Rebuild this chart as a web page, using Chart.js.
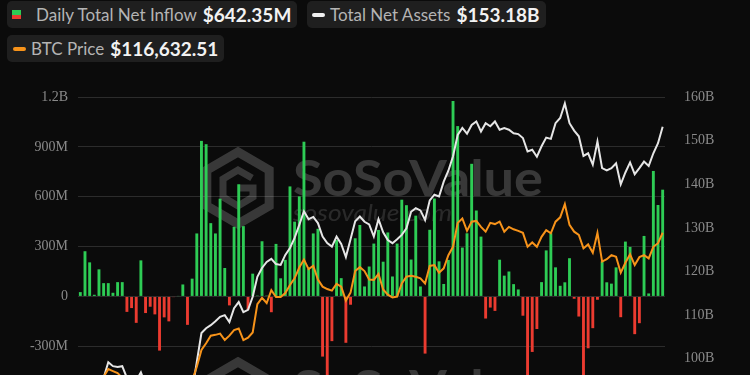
<!DOCTYPE html>
<html>
<head>
<meta charset="utf-8">
<script src="https://cdn.jsdelivr.net/npm/chart.js@4.4.1/dist/chart.umd.min.js"></script>
<style>
  body { margin: 0; background: #0b0b0b; width: 750px; height: 375px; overflow: hidden; position: relative; font-family: Lato, "Noto Sans", sans-serif; }
  .pill { position: absolute; height: 27px; background: #1f1f1f; border-radius: 5px; display: flex; align-items: center; box-sizing: border-box; white-space: nowrap; }
  .lbl { color: #b4b4b4; font-size: 17px; }
  .val { color: #f2f2f2; font-size: 19px; font-weight: bold; margin-left: 6px; }
  .sq { width: 9px; height: 9px; display: inline-block; background: linear-gradient(#2ecc55 50%, #eb3b30 50%); margin-right: 15px; }
  .dash { width: 13px; height: 4px; border-radius: 2px; display: inline-block; margin-right: 5px; }
  #wrap { position: absolute; left: 0; top: 0; width: 750px; height: 470px; }
</style>
</head>
<body>
<div class="pill" style="left:7px;top:1px;padding:0 6px 0 5px;">
  <span class="sq"></span><span class="lbl">Daily Total Net Inflow</span><span class="val">$642.35M</span>
</div>
<div class="pill" style="left:307px;top:1px;padding:0 6px 0 5px;">
  <span class="dash" style="background:#f0f0f0"></span><span class="lbl">Total Net Assets</span><span class="val">$153.18B</span>
</div>
<div class="pill" style="left:7px;top:35px;padding:0 6px 0 6px;">
  <span class="dash" style="background:#f7931a"></span><span class="lbl">BTC Price</span><span class="val">$116,632.51</span>
</div>
<div id="wrap"><canvas id="chart"></canvas></div>
<script>
// trading days shown on the (hidden) x axis
const dates = [
  'Mar 14','Mar 17','Mar 18','Mar 19','Mar 20','Mar 21','Mar 24','Mar 25','Mar 26','Mar 27','Mar 28','Mar 31',
  'Apr 1','Apr 2','Apr 3','Apr 4','Apr 7','Apr 8','Apr 9','Apr 10','Apr 11','Apr 14','Apr 15','Apr 16','Apr 17',
  'Apr 21','Apr 22','Apr 23','Apr 24','Apr 25','Apr 28','Apr 29','Apr 30',
  'May 1','May 2','May 5','May 6','May 7','May 8','May 9','May 12','May 13','May 14','May 15','May 16',
  'May 19','May 20','May 21','May 22','May 23','May 27','May 28','May 29','May 30',
  'Jun 2','Jun 3','Jun 4','Jun 5','Jun 6','Jun 9','Jun 10','Jun 11','Jun 12','Jun 13','Jun 16','Jun 17',
  'Jun 18','Jun 20','Jun 23','Jun 24','Jun 25','Jun 26','Jun 27','Jun 30',
  'Jul 1','Jul 2','Jul 3','Jul 7','Jul 8','Jul 9','Jul 10','Jul 11','Jul 14','Jul 15','Jul 16','Jul 17',
  'Jul 18','Jul 21','Jul 22','Jul 23','Jul 24','Jul 25','Jul 28','Jul 29','Jul 30','Jul 31',
  'Aug 1','Aug 4','Aug 5','Aug 6','Aug 7','Aug 8','Aug 11','Aug 12','Aug 13','Aug 14','Aug 15','Aug 18',
  'Aug 19','Aug 20','Aug 21','Aug 22','Aug 25','Aug 26','Aug 27','Aug 28','Aug 29',
  'Sep 2','Sep 3','Sep 4','Sep 5','Sep 8','Sep 9','Sep 10','Sep 11','Sep 12'
];

// daily total net inflow, millions USD
const netInflow = [
  26, 272, 205, 10, 163, 80, 80, 22, 86, 86, -93, -70,
  -159, 217, -100, -62, -108, -326, -126, -150, -4, 2, 72, -171, 107,
  379, 936, 916, 441, 379, 588, 171, -54,
  419, 675, 423, -80, 137, 5, 332, 5, -95, 316, 109, 220,
  662, 450, 602, 931, 167, 379, 407, -362, -520,
  -269, 340, 110, -279, -50, 350, 430, 60, 180, 318, 400, 209,
  385, 120, 318, 582, 549, 222, 486, 60,
  -344, 401, 589, 211, 75, 220, 1176, 1025, 294, 380, 798, 517,
  360, -133, -67, -87, 221, 125, 150, 74, 42, -116,
  -600, -334, -196, 86, 277, 380, 175, 64, 85, 230, -14, -121,
  -560, -312, -191, -20, 211, 85, 77, 175, -125,
  330, 298, -227, -161, 364, 18, 755, 550, 642.35
];

// total net assets, billions USD
const netAssets = [
  93.5, 94.5, 95.0, 94.0, 95.0, 95.6, 99.2, 98.3, 98.1, 98.3, 95.6, 94.0,
  95.0, 96.9, 94.0, 93.0, 92.0, 89.5, 90.5, 89.0, 90.0, 91.0, 91.5, 91.0, 92.5,
  99.3, 105.9, 107.0, 107.7, 108.6, 109.6, 110.0, 108.4,
  111.6, 113.0, 110.7, 111.2, 114.2, 118.8, 120.8, 122.2, 122.9, 121.7, 121.5, 123.8,
  125.4, 127.7, 130.7, 133.8, 132.0, 132.5, 131.1, 128.0, 126.5,
  125.7, 128.0, 126.3, 123.3, 127.4, 131.5, 132.6, 131.4, 130.8, 128.0, 132.0, 129.0,
  127.2, 126.5, 127.4, 128.4, 129.9, 133.7, 134.5, 134.0,
  131.8, 136.3, 137.6, 137.2, 140.6, 143.1, 146.4, 151.3, 152.9, 151.6, 153.6, 154.4,
  152.1, 154.0, 153.3, 154.4, 152.5, 152.9, 152.5, 151.7, 151.5, 150.6,
  147.5, 147.9, 146.3, 148.7, 150.7, 150.4, 154.0, 155.2, 158.5, 154.0, 152.3, 151.0,
  146.5, 147.1, 144.5, 149.8, 143.7, 143.2, 143.7, 144.8, 140.0,
  142.7, 145.0, 142.3, 143.7, 145.2, 144.2, 147.1, 149.4, 153.18
];

// BTC price, USD
const btcPrice = [
  79500, 80300, 80000, 79000, 79800, 80500, 82400, 81900, 81400, 80200, 78500, 77500,
  78000, 80000, 77000, 76000, 75000, 72500, 74000, 72000, 74000, 75500, 76500, 75500, 79500,
  83000, 87200, 88900, 90800, 91000, 91300, 89700, 90800,
  92200, 92600, 89700, 90300, 91600, 98700, 100300, 99000, 102200, 100500, 100500, 101500,
  103500, 105200, 107900, 109900, 107500, 108300, 104900, 103100, 102500,
  102100, 103800, 103100, 99600, 101600, 107000, 108000, 107000, 104900, 104800, 106300, 102400,
  101100, 100400, 100600, 103900, 105600, 105800, 105600, 105200,
  103900, 108300, 108500, 106600, 107700, 111000, 113100, 119100, 120200, 117100, 119400, 119600,
  118100, 116900, 119100, 118800, 119400, 116900, 118100, 117500, 117100, 116600,
  113100, 114200, 113100, 115600, 117300, 116500, 119400, 120500, 123800, 118600, 116900, 116100,
  112700, 113700, 111600, 116600, 109400, 110000, 111000, 110600, 106600,
  109100, 111200, 108500, 110500, 111000, 110200, 113100, 114000, 116632.51
];

const leftTicks = { min: -900, max: 1200, step: 300 };
const rightTicks = { min: 80, max: 160, step: 10 };

const GREEN = '#2ecc55';
const RED = '#eb3b30';

// faint SoSoValue watermark behind the bars
const watermark = {
    id: 'watermark',
    beforeDatasetsDraw(chart) {
        const ctx = chart.ctx;
        ctx.save();
        [0, 210].forEach(dy => {
            const cx = 238, cy = 188 + dy, r = 36;
            ctx.strokeStyle = 'rgba(255,255,255,0.19)';
            ctx.lineWidth = 9;
            ctx.lineJoin = 'miter';
            ctx.beginPath();
            for (let k = 0; k < 6; k++) {
                const a = Math.PI / 3 * k - Math.PI / 2;
                const px = cx + r * Math.cos(a), py = cy + r * Math.sin(a);
                k === 0 ? ctx.moveTo(px, py) : ctx.lineTo(px, py);
            }
            ctx.closePath();
            ctx.stroke();
            // inner "G" cube shape
            ctx.lineWidth = 7;
            ctx.beginPath();
            ctx.moveTo(cx + 14, cy - 10);
            ctx.lineTo(cx, cy - 18);
            ctx.lineTo(cx - 15, cy - 9);
            ctx.lineTo(cx - 15, cy + 9);
            ctx.lineTo(cx, cy + 18);
            ctx.lineTo(cx + 15, cy + 9);
            ctx.lineTo(cx + 15, cy);
            ctx.lineTo(cx + 2, cy);
            ctx.stroke();

            ctx.fillStyle = 'rgba(255,255,255,0.19)';
            ctx.font = 'bold 50px Lato, "Noto Sans", sans-serif';
            ctx.textBaseline = 'alphabetic';
            ctx.textAlign = 'left';
            const t = 'SoSoValue';
            const w = ctx.measureText(t).width;
            ctx.save();
            ctx.translate(293, 196 + dy);
            ctx.scale(250 / w, 1);
            ctx.fillText(t, 0, 0);
            ctx.restore();

            ctx.fillStyle = 'rgba(255,255,255,0.13)';
            ctx.font = 'italic 24px Lato, "Noto Sans", sans-serif';
            const t2 = 'sosovalue.com';
            const w2 = ctx.measureText(t2).width;
            ctx.save();
            ctx.translate(293, 221 + dy);
            ctx.scale(159 / w2, 1);
            ctx.fillText(t2, 0, 0);
            ctx.restore();
        });
        ctx.restore();
    }
};

const tickFont = { family: '"Liberation Serif", "DejaVu Serif", serif', size: 14 };

new Chart(document.getElementById('chart'), {
    type: 'bar',
    data: {
        labels: dates,
        datasets: [
            {
                label: 'Daily Total Net Inflow',
                data: netInflow,
                backgroundColor: netInflow.map(v => v >= 0 ? GREEN : RED),
                barPercentage: 0.62,
                categoryPercentage: 1,
                yAxisID: 'y',
                order: 3
            },
            {
                type: 'line',
                label: 'Total Net Assets',
                data: netAssets,
                borderColor: '#e6e6e6',
                borderWidth: 2,
                pointRadius: 0,
                tension: 0,
                yAxisID: 'yR',
                order: 2
            },
            {
                type: 'line',
                label: 'BTC Price',
                data: btcPrice,
                borderColor: '#f7931a',
                borderWidth: 2,
                pointRadius: 0,
                tension: 0,
                yAxisID: 'yP',
                order: 1
            }
        ]
    },
    options: {
        responsive: true,
        maintainAspectRatio: false,
        animation: false,
        layout: { padding: { top: 97, bottom: 24, left: 0, right: 0 } },
        plugins: { legend: { display: false }, tooltip: { enabled: false } },
        scales: {
            x: { display: false, offset: true },
            y: {
                position: 'left',
                min: leftTicks.min,
                max: leftTicks.max,
                ticks: {
                    stepSize: leftTicks.step,
                    color: '#8a8a8a',
                    font: tickFont,
                    padding: 10,
                    callback: v => v === 0 ? '0' : (Math.abs(v) >= 1000 ? (v / 1000) + 'B' : v + 'M')
                },
                grid: { color: '#2c2c2c', drawTicks: false },
                border: { display: false },
                afterFit: s => { s.width = 78; }
            },
            yR: {
                position: 'right',
                min: rightTicks.min,
                max: rightTicks.max,
                ticks: {
                    stepSize: rightTicks.step,
                    color: '#8a8a8a',
                    font: tickFont,
                    padding: 11,
                    callback: v => v + 'B'
                },
                grid: { display: false },
                border: { display: false },
                afterFit: s => { s.width = 85; }
            },
            yP: { display: false, min: 63100, max: 150700 }
        }
    },
    plugins: [watermark]
});
</script>
</body>
</html>
